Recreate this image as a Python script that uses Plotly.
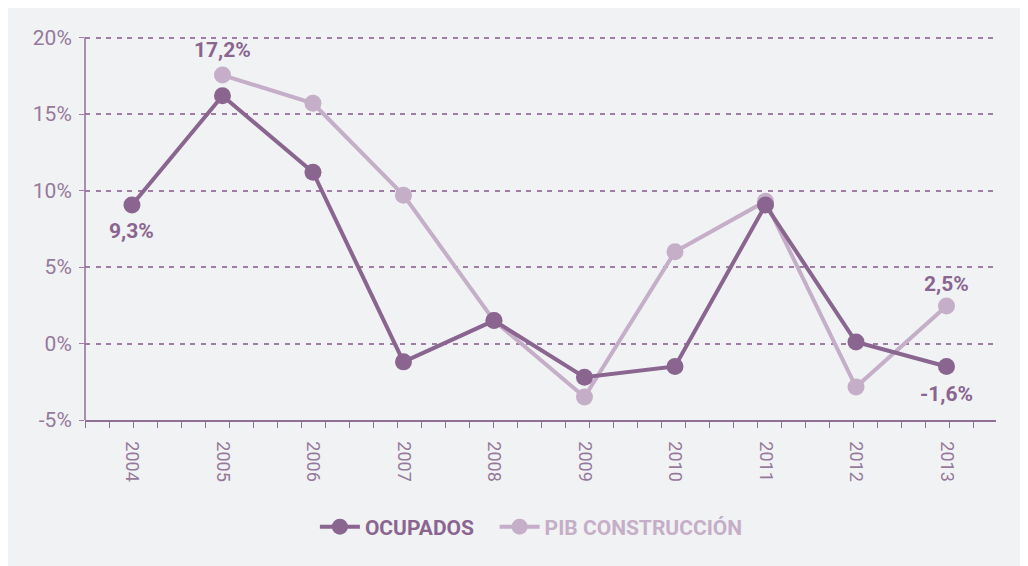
import plotly.graph_objects as go

years = ["2004", "2005", "2006", "2007", "2008", "2009", "2010", "2011", "2012", "2013"]
ocupados = [9.05, 16.2, 11.2, -1.2, 1.5, -2.2, -1.5, 9.05, 0.1, -1.5]
pib = [None, 17.55, 15.7, 9.7, 1.5, -3.5, 6.0, 9.3, -2.85, 2.45]
y_ticks = [-5, 0, 5, 10, 15, 20]
y_labels = ["-5%", "0%", "5%", "10%", "15%", "20%"]

DARK = "#8a6590"
LIGHT = "#c5aec7"
AXIS = "#8f6f96"
TICKTXT = "#957a9b"
GRID = "#9f7da5"
BG = "#f1f2f4"
FONT = "Roboto"

xs = list(range(len(years)))

fig = go.Figure()
fig.add_trace(go.Scatter(
    x=xs, y=pib, mode="lines+markers",
    name="<b><span style='color:%s'>PIB CONSTRUCCIÓN</span></b>" % LIGHT,
    line=dict(color=LIGHT, width=4),
    marker=dict(color=LIGHT, size=17),
    legendrank=2, connectgaps=False, cliponaxis=False,
))
fig.add_trace(go.Scatter(
    x=xs, y=ocupados, mode="lines+markers",
    name="<b><span style='color:%s'>OCUPADOS</span></b>&nbsp;&nbsp;&nbsp;" % DARK,
    line=dict(color=DARK, width=4),
    marker=dict(color=DARK, size=17),
    legendrank=1, cliponaxis=False,
))

# value labels
labels = [
    (1, pib[1], "17,2%", 25),
    (0, ocupados[0], "9,3%", -26),
    (9, pib[9], "2,5%", 22),
    (9, ocupados[9], "-1,6%", -28),
]
for xi, yv, txt, sh in labels:
    fig.add_annotation(x=xi, y=yv, text="<b>%s</b>" % txt, showarrow=False,
                       yshift=sh, font=dict(family=FONT, size=21, color=DARK))

# page body has an 8px margin: figure origin sits at page (8, 8)
OFF = 8
Y_TOP = 20.3
L, R, T, B = 85 - OFF, 1028 - 996, 33 - OFF, 566 - 420
W, H = 1028 - OFF, 566 - OFF
pw, ph = W - L - R, H - T - B

xr0, xr1 = -0.519, 9.547
unit = pw / (xr1 - xr0)

fig.update_layout(
    width=W, height=H,
    margin=dict(l=L, r=R, t=T, b=B),
    paper_bgcolor=BG, plot_bgcolor=BG,
    font=dict(family=FONT, color=AXIS),
    showlegend=True,
    legend=dict(orientation="h", x=0.49, xanchor="center",
                y=(420 - 527) / ph, yanchor="middle",
                font=dict(family=FONT, size=21), itemwidth=40,
                bgcolor="rgba(0,0,0,0)"),
    xaxis=dict(
        range=[xr0, xr1], tickmode="array", tickvals=xs, ticktext=years,
        tickangle=90, ticks="", showgrid=False, zeroline=False,
        showline=True, linecolor=AXIS, linewidth=1.5,
        tickfont=dict(family=FONT, size=18, color=TICKTXT),
        ticklabelstandoff=16,
        minor=dict(ticks="outside", tick0=xr0, dtick=24 / unit, ticklen=6,
                   tickcolor=AXIS, tickwidth=1.2, showgrid=False),
    ),
    yaxis=dict(
        range=[-5, Y_TOP], tickmode="array", tickvals=y_ticks, ticktext=y_labels,
        showgrid=True, gridcolor=GRID, gridwidth=1.5, griddash="5px,5.5px",
        zeroline=False, showline=False,
        ticks="outside", ticklen=5, tickcolor=GRID, tickwidth=1.3,
        tickfont=dict(family=FONT, size=21, color=TICKTXT),
        ticklabelstandoff=3,
    ),
)
# y axis line runs only from -5% to 20%
fig.add_shape(type="line", xref="paper", yref="y", x0=0, x1=0,
              y0=y_ticks[0], y1=y_ticks[-1], line=dict(color=AXIS, width=1.5))

fig.write_html("out.html")
